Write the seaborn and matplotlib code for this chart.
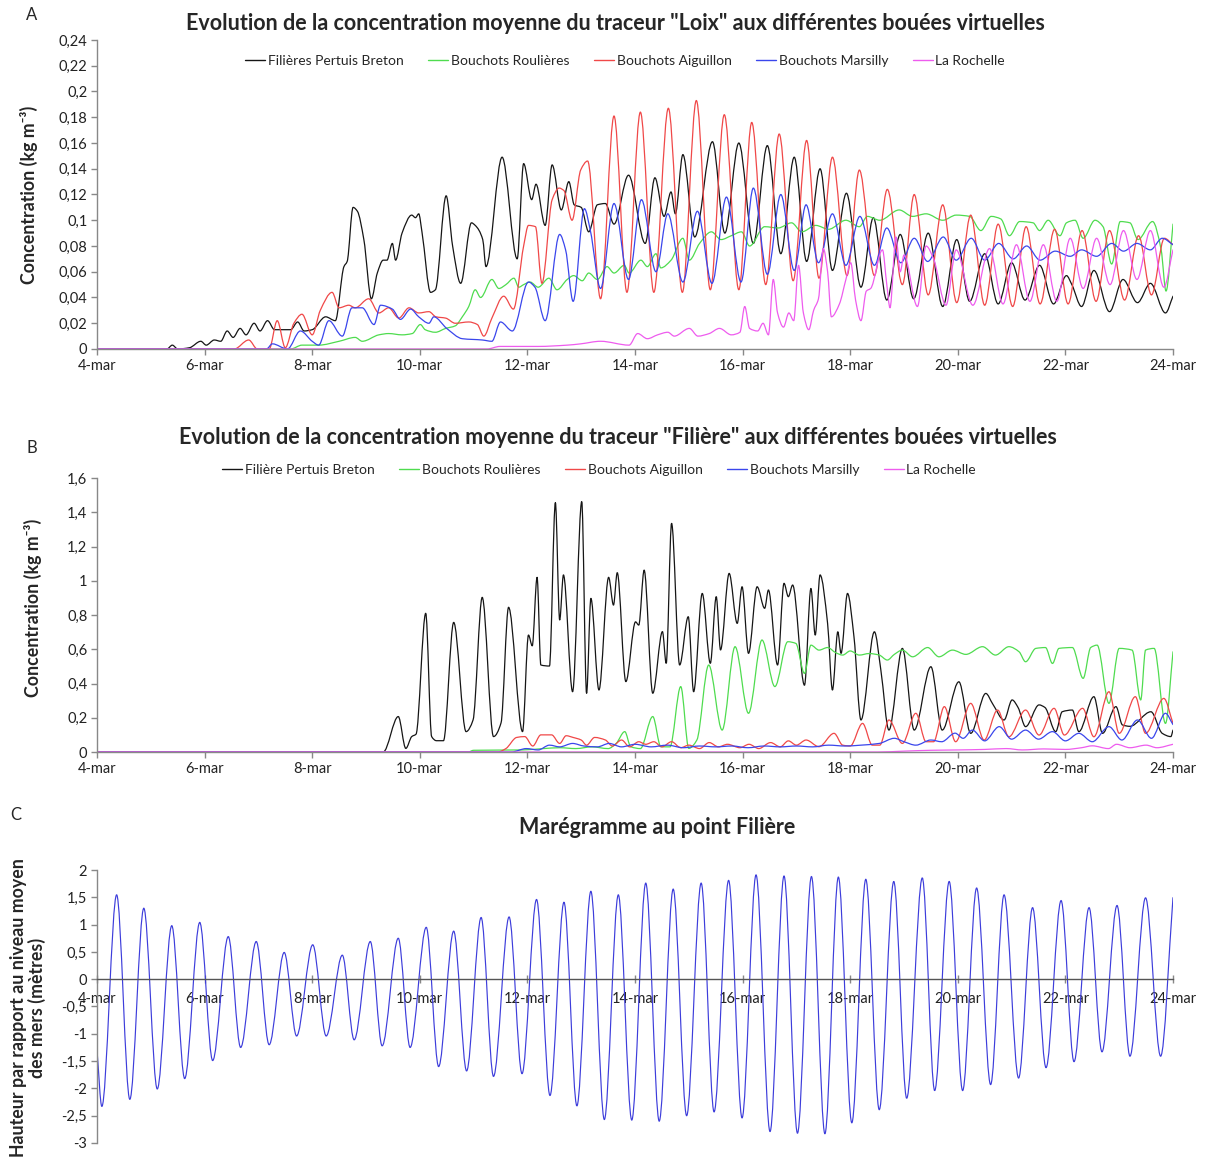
import matplotlib
matplotlib.use("Agg")
import matplotlib.pyplot as plt
from matplotlib.ticker import FuncFormatter, MultipleLocator
from matplotlib.path import Path
from matplotlib.patches import PathPatch
from matplotlib.lines import Line2D
import seaborn as sns

# ---------------- DATA (time in days after 4-mar 00:00, value) ----------------
DATE_TICKS = [0, 2, 4, 6, 8, 10, 12, 14, 16, 18, 20]
DATE_LABELS = ["4-mar", "6-mar", "8-mar", "10-mar", "12-mar", "14-mar",
               "16-mar", "18-mar", "20-mar", "22-mar", "24-mar"]

A_NAMES = ["Filières Pertuis Breton", "Bouchots Roulières", "Bouchots Aiguillon",
           "Bouchots Marsilly", "La Rochelle"]
B_NAMES = ["Filière Pertuis Breton", "Bouchots Roulières", "Bouchots Aiguillon",
           "Bouchots Marsilly", "La Rochelle"]

A_BLACK = [(0, 0), (1.30, 0), (1.40, 0.003), (1.50, 0), (1.72, 0.001), (1.93, 0.006), (2.03, 0.003),
           (2.18, 0.007), (2.30, 0.006), (2.42, 0.014), (2.53, 0.009), (2.66, 0.016), (2.77, 0.011),
           (2.92, 0.020), (3.03, 0.014), (3.17, 0.022), (3.30, 0.015), (3.60, 0.015), (3.73, 0.021),
           (3.85, 0.014), (4.00, 0.015), (4.25, 0.025), (4.43, 0.022), (4.59, 0.064), (4.65, 0.068),
           (4.76, 0.110), (4.84, 0.107), (4.96, 0.085), (5.10, 0.039), (5.21, 0.059), (5.32, 0.069),
           (5.39, 0.069), (5.49, 0.082), (5.55, 0.069), (5.67, 0.090), (5.85, 0.104), (5.92, 0.102),
           (5.98, 0.105), (6.04, 0.091), (6.20, 0.044), (6.29, 0.046), (6.49, 0.119), (6.61, 0.080),
           (6.76, 0.051), (6.96, 0.098), (7.03, 0.096), (7.17, 0.085), (7.23, 0.064), (7.53, 0.149),
           (7.81, 0.070), (7.93, 0.144), (8.08, 0.116), (8.16, 0.128), (8.33, 0.096), (8.46, 0.143),
           (8.63, 0.108), (8.77, 0.130), (8.87, 0.112), (9.00, 0.110), (9.14, 0.091), (9.30, 0.112),
           (9.45, 0.113), (9.61, 0.097), (9.88, 0.135), (10.19, 0.082), (10.37, 0.133), (10.54, 0.103),
           (10.67, 0.122), (10.75, 0.105), (10.89, 0.151), (11.11, 0.087), (11.44, 0.161), (11.67, 0.090),
           (11.93, 0.160), (12.20, 0.082), (12.46, 0.158), (12.71, 0.074), (12.96, 0.149), (13.19, 0.068),
           (13.44, 0.140), (13.67, 0.061), (13.93, 0.121), (14.20, 0.048), (14.43, 0.102), (14.68, 0.038),
           (14.93, 0.089), (15.18, 0.039), (15.45, 0.090), (15.72, 0.033), (15.98, 0.085), (16.22, 0.037),
           (16.50, 0.074), (16.75, 0.035), (17.00, 0.067), (17.25, 0.038), (17.52, 0.065), (17.78, 0.035),
           (18.02, 0.057), (18.12, 0.050), (18.30, 0.033), (18.53, 0.061), (18.82, 0.029), (19.07, 0.054),
           (19.34, 0.036), (19.58, 0.051), (19.86, 0.028), (20.0, 0.041)]

A_GREEN = [(0, 0), (3.60, 0), (3.81, 0.003), (4.12, 0.003), (4.50, 0.006), (4.80, 0.009), (4.93, 0.006),
           (5.24, 0.011), (5.42, 0.012), (5.67, 0.011), (5.86, 0.012), (6.01, 0.019), (6.10, 0.015),
           (6.29, 0.013), (6.48, 0.016), (6.66, 0.018), (6.79, 0.025), (6.91, 0.033), (7.03, 0.046),
           (7.13, 0.040), (7.34, 0.054), (7.47, 0.047), (7.60, 0.050), (7.75, 0.055), (7.84, 0.048),
           (7.93, 0.050), (8.05, 0.052), (8.20, 0.048), (8.40, 0.055), (8.55, 0.046), (8.74, 0.054),
           (8.86, 0.057), (9.02, 0.053), (9.14, 0.059), (9.30, 0.054), (9.48, 0.064), (9.61, 0.059),
           (9.80, 0.065), (9.89, 0.059), (10.11, 0.069), (10.23, 0.064), (10.39, 0.074), (10.48, 0.063),
           (10.67, 0.069), (10.89, 0.086), (11.01, 0.069), (11.20, 0.082), (11.42, 0.091), (11.60, 0.085),
           (11.79, 0.088), (11.98, 0.091), (12.13, 0.080), (12.41, 0.095), (12.66, 0.094), (12.91, 0.098),
           (13.10, 0.091), (13.36, 0.096), (13.60, 0.093), (13.92, 0.100), (14.17, 0.095), (14.32, 0.103),
           (14.55, 0.100), (14.91, 0.108), (15.16, 0.103), (15.41, 0.105), (15.72, 0.100), (15.97, 0.104),
           (16.22, 0.103), (16.43, 0.092), (16.62, 0.103), (16.80, 0.101), (16.96, 0.088), (17.15, 0.099),
           (17.40, 0.098), (17.52, 0.092), (17.68, 0.100), (17.90, 0.088), (18.02, 0.098), (18.18, 0.100),
           (18.33, 0.086), (18.55, 0.100), (18.70, 0.095), (18.86, 0.066), (19.02, 0.099), (19.20, 0.098),
           (19.35, 0.085), (19.62, 0.099), (19.78, 0.077), (19.87, 0.045), (20.0, 0.097)]

A_RED = [(0, 0), (2.55, 0), (2.82, 0.007), (2.98, 0), (3.20, 0), (3.35, 0.022), (3.50, 0.001), (3.66, 0.020),
         (3.81, 0.027), (4.00, 0.011), (4.15, 0.030), (4.37, 0.044), (4.50, 0.032), (4.68, 0.034),
         (4.80, 0.032), (5.05, 0.039), (5.24, 0.028), (5.42, 0.032), (5.61, 0.024), (5.80, 0.032),
         (5.98, 0.028), (6.17, 0.029), (6.30, 0.025), (6.48, 0.024), (6.66, 0.020), (6.91, 0.021),
         (7.07, 0.019), (7.19, 0.010), (7.34, 0.024), (7.56, 0.041), (7.74, 0.031), (7.93, 0.080),
         (8.02, 0.096), (8.15, 0.095), (8.27, 0.051), (8.46, 0.116), (8.59, 0.125), (8.68, 0.123),
         (8.83, 0.100), (8.99, 0.139), (9.12, 0.146), (9.36, 0.039), (9.61, 0.181), (9.85, 0.044),
         (10.10, 0.184), (10.35, 0.044), (10.62, 0.187), (10.88, 0.044), (11.14, 0.193), (11.40, 0.046),
         (11.66, 0.182), (11.93, 0.046), (12.17, 0.176), (12.43, 0.050), (12.68, 0.167), (12.94, 0.053),
         (13.19, 0.162), (13.42, 0.055), (13.67, 0.149), (13.94, 0.057), (14.17, 0.139), (14.45, 0.057),
         (14.69, 0.124), (14.97, 0.050), (15.19, 0.120), (15.45, 0.042), (15.72, 0.112), (15.98, 0.036),
         (16.24, 0.104), (16.50, 0.034), (16.75, 0.097), (17.02, 0.033), (17.27, 0.095), (17.53, 0.035),
         (17.80, 0.093), (18.05, 0.035), (18.31, 0.092), (18.57, 0.037), (18.82, 0.092), (19.10, 0.038),
         (19.36, 0.088), (19.60, 0.042), (19.84, 0.086), (20.0, 0.081)]

A_BLUE = [(0, 0), (3.15, 0), (3.26, 0.004), (3.54, 0), (3.78, 0.014), (4.00, 0.006), (4.12, 0.003),
          (4.31, 0.022), (4.56, 0.010), (4.74, 0.032), (4.93, 0.032), (5.15, 0.019), (5.27, 0.034),
          (5.49, 0.031), (5.64, 0.023), (5.83, 0.031), (5.98, 0.025), (6.17, 0.020), (6.26, 0.025),
          (6.50, 0.016), (6.79, 0.008), (7.16, 0.007), (7.34, 0.006), (7.50, 0.021), (7.72, 0.014),
          (8.02, 0.052), (8.14, 0.048), (8.33, 0.022), (8.60, 0.089), (8.71, 0.077), (8.85, 0.037),
          (9.06, 0.109), (9.17, 0.092), (9.36, 0.047), (9.61, 0.113), (9.88, 0.054), (10.12, 0.116),
          (10.39, 0.060), (10.61, 0.105), (10.89, 0.052), (11.16, 0.107), (11.43, 0.051), (11.70, 0.118),
          (11.97, 0.052), (12.20, 0.125), (12.46, 0.058), (12.71, 0.120), (12.96, 0.061), (13.18, 0.112),
          (13.41, 0.067), (13.67, 0.105), (13.92, 0.065), (14.18, 0.103), (14.45, 0.065), (14.68, 0.094),
          (14.94, 0.067), (15.19, 0.086), (15.44, 0.068), (15.73, 0.087), (15.97, 0.069), (16.25, 0.086),
          (16.50, 0.069), (16.76, 0.082), (17.03, 0.070), (17.28, 0.080), (17.53, 0.069), (17.81, 0.076),
          (18.09, 0.072), (18.30, 0.077), (18.58, 0.072), (18.86, 0.082), (19.08, 0.076), (19.33, 0.082),
          (19.58, 0.077), (19.80, 0.086), (20.0, 0.081)]

A_PINK = [(0, 0), (7.25, 0), (7.49, 0.002), (8.20, 0.002), (8.74, 0.003), (8.99, 0.004), (9.36, 0.006),
          (9.89, 0.003), (10.05, 0.012), (10.23, 0.008), (10.42, 0.011), (10.61, 0.013), (10.73, 0.010),
          (11.01, 0.016), (11.17, 0.010), (11.38, 0.012), (11.57, 0.016), (11.79, 0.011), (11.95, 0.013),
          (12.04, 0.033), (12.13, 0.016), (12.28, 0.014), (12.38, 0.020), (12.48, 0.011), (12.57, 0.054),
          (12.65, 0.028), (12.76, 0.017), (12.86, 0.028), (12.95, 0.022), (13.04, 0.065), (13.13, 0.028),
          (13.23, 0.015), (13.32, 0.030), (13.41, 0.039), (13.50, 0.078), (13.58, 0.060), (13.65, 0.025),
          (13.80, 0.035), (13.92, 0.054), (14.01, 0.067), (14.10, 0.038), (14.20, 0.022), (14.30, 0.045),
          (14.38, 0.047), (14.60, 0.077), (14.68, 0.050), (14.74, 0.032), (14.85, 0.087), (14.93, 0.060),
          (15.00, 0.073), (15.25, 0.033), (15.41, 0.080), (15.55, 0.070), (15.78, 0.034), (15.97, 0.077),
          (16.28, 0.034), (16.59, 0.078), (16.84, 0.035), (17.09, 0.081), (17.34, 0.037), (17.59, 0.081),
          (17.84, 0.037), (18.09, 0.086), (18.33, 0.047), (18.58, 0.086), (18.83, 0.050), (19.08, 0.092),
          (19.33, 0.054), (19.58, 0.092), (19.83, 0.048), (20.0, 0.077)]

B_BLACK = [(0, 0), (5.32, 0), (5.60, 0.207), (5.74, 0.021), (5.85, 0.090), (5.93, 0.104), (6.11, 0.810),
           (6.22, 0.090), (6.31, 0.066), (6.44, 0.066), (6.63, 0.757), (6.86, 0.119), (6.99, 0.187),
           (7.16, 0.903), (7.37, 0.090), (7.51, 0.170), (7.65, 0.845), (7.91, 0.119), (8.02, 0.683),
           (8.09, 0.620), (8.18, 1.020), (8.25, 0.508), (8.41, 0.502), (8.52, 1.456), (8.60, 0.771),
           (8.67, 1.034), (8.84, 0.352), (9.01, 1.462), (9.10, 0.343), (9.18, 0.897), (9.33, 0.362),
           (9.51, 1.020), (9.60, 0.858), (9.67, 1.047), (9.83, 0.411), (10.01, 0.760), (10.07, 0.741),
           (10.17, 1.062), (10.33, 0.343), (10.51, 0.703), (10.58, 0.518), (10.68, 1.335), (10.83, 0.508),
           (10.99, 0.790), (11.09, 0.352), (11.25, 0.926), (11.40, 0.518), (11.51, 0.907), (11.59, 0.596),
           (11.75, 1.043), (11.90, 0.751), (11.99, 0.965), (12.11, 0.576), (12.27, 0.965), (12.41, 0.839),
           (12.48, 0.946), (12.65, 0.508), (12.77, 0.985), (12.85, 0.907), (12.93, 0.975), (13.15, 0.390),
           (13.27, 0.955), (13.35, 0.683), (13.44, 1.034), (13.58, 0.750), (13.67, 0.362), (13.77, 0.702),
           (13.83, 0.576), (13.95, 0.926), (14.07, 0.673), (14.20, 0.187), (14.45, 0.702), (14.57, 0.478),
           (14.72, 0.128), (14.97, 0.605), (15.19, 0.128), (15.50, 0.498), (15.71, 0.128), (16.02, 0.410),
           (16.24, 0.109), (16.52, 0.342), (16.65, 0.280), (16.86, 0.187), (17.01, 0.304), (17.12, 0.260),
           (17.26, 0.148), (17.51, 0.275), (17.62, 0.260), (17.82, 0.119), (17.94, 0.235), (18.13, 0.245),
           (18.25, 0.119), (18.53, 0.323), (18.69, 0.109), (18.94, 0.265), (19.06, 0.158), (19.20, 0.150),
           (19.59, 0.235), (19.80, 0.109), (19.96, 0.090), (20.0, 0.128)]

B_GREEN = [(0, 0), (6.90, 0), (7.00, 0.010), (7.90, 0.012), (8.30, 0.020), (8.60, 0.025), (8.90, 0.020),
           (9.20, 0.030), (9.50, 0.020), (9.65, 0.050), (9.81, 0.119), (9.92, 0.031), (10.10, 0.020),
           (10.33, 0.207), (10.48, 0.031), (10.65, 0.030), (10.85, 0.382), (11.00, 0.021), (11.15, 0.070),
           (11.37, 0.508), (11.62, 0.128), (11.86, 0.615), (12.11, 0.226), (12.36, 0.654), (12.60, 0.382),
           (12.84, 0.644), (12.99, 0.634), (13.15, 0.459), (13.27, 0.624), (13.42, 0.595), (13.58, 0.610),
           (13.73, 0.580), (13.86, 0.566), (14.00, 0.590), (14.17, 0.566), (14.35, 0.575), (14.54, 0.566),
           (14.69, 0.537), (14.82, 0.570), (14.97, 0.595), (15.16, 0.556), (15.44, 0.610), (15.65, 0.556),
           (15.90, 0.595), (16.15, 0.570), (16.46, 0.615), (16.70, 0.566), (16.95, 0.615), (17.14, 0.585),
           (17.26, 0.527), (17.45, 0.605), (17.63, 0.610), (17.76, 0.517), (17.88, 0.605), (18.13, 0.610),
           (18.33, 0.430), (18.47, 0.610), (18.59, 0.624), (18.81, 0.284), (19.00, 0.605), (19.24, 0.595),
           (19.40, 0.304), (19.49, 0.595), (19.65, 0.605), (19.86, 0.167), (20.0, 0.585)]

B_RED = [(0, 0), (7.45, 0), (7.60, 0.020), (7.80, 0.085), (7.95, 0.090), (8.10, 0.035), (8.25, 0.100),
         (8.45, 0.100), (8.60, 0.050), (8.72, 0.095), (8.85, 0.085), (9.00, 0.070), (9.10, 0.040),
         (9.25, 0.085), (9.45, 0.070), (9.58, 0.035), (9.75, 0.070), (9.90, 0.030), (10.07, 0.060),
         (10.20, 0.045), (10.35, 0.060), (10.50, 0.030), (10.68, 0.060), (10.85, 0.025), (11.00, 0.040),
         (11.20, 0.020), (11.38, 0.055), (11.55, 0.030), (11.72, 0.045), (11.95, 0.025), (12.12, 0.045),
         (12.30, 0.020), (12.52, 0.055), (12.70, 0.030), (12.85, 0.065), (13.00, 0.040), (13.18, 0.070),
         (13.42, 0.031), (13.70, 0.109), (13.86, 0.040), (14.00, 0.035), (14.23, 0.167), (14.41, 0.040),
         (14.55, 0.040), (14.72, 0.187), (14.97, 0.050), (15.22, 0.226), (15.41, 0.060), (15.55, 0.060),
         (15.75, 0.265), (15.96, 0.060), (16.24, 0.284), (16.49, 0.070), (16.74, 0.245), (16.95, 0.089),
         (17.26, 0.245), (17.51, 0.099), (17.79, 0.255), (17.98, 0.099), (18.32, 0.255), (18.53, 0.089),
         (18.81, 0.352), (19.00, 0.109), (19.30, 0.323), (19.49, 0.109), (19.83, 0.313), (20.0, 0.167)]

B_BLUE = [(0, 0), (7.70, 0), (7.98, 0.020), (8.20, 0.012), (8.41, 0.040), (8.60, 0.030), (8.84, 0.050),
          (9.05, 0.035), (9.30, 0.030), (9.52, 0.050), (9.75, 0.030), (10.00, 0.045), (10.30, 0.030),
          (10.60, 0.040), (10.90, 0.025), (11.20, 0.035), (11.50, 0.030), (11.80, 0.035), (12.10, 0.025),
          (12.40, 0.035), (12.70, 0.030), (13.00, 0.035), (13.30, 0.030), (13.60, 0.040), (13.90, 0.035),
          (14.20, 0.040), (14.54, 0.050), (14.82, 0.080), (15.00, 0.060), (15.22, 0.040), (15.50, 0.070),
          (15.70, 0.060), (15.95, 0.110), (16.10, 0.080), (16.27, 0.128), (16.50, 0.065), (16.77, 0.148),
          (17.00, 0.075), (17.26, 0.128), (17.50, 0.075), (17.76, 0.119), (18.00, 0.065), (18.25, 0.109),
          (18.50, 0.060), (18.81, 0.148), (19.05, 0.070), (19.34, 0.187), (19.60, 0.080), (19.86, 0.226),
          (20.0, 0.160)]

B_PINK = [(0, 0), (14.50, 0), (15.00, 0.005), (15.50, 0.010), (16.00, 0.012), (16.50, 0.015), (16.90, 0.020),
          (17.20, 0.012), (17.60, 0.018), (18.00, 0.015), (18.30, 0.025), (18.50, 0.036), (18.80, 0.020),
          (18.95, 0.045), (19.20, 0.025), (19.50, 0.040), (19.70, 0.025), (20.0, 0.045)]

# Tide gauge: low waters, high waters, start and end values
TIDE_LOW = [(0.09, -2.33), (0.61, -2.20), (1.12, -2.01), (1.63, -1.82), (2.15, -1.49), (2.67, -1.25),
            (3.20, -1.20), (3.71, -1.04), (4.26, -1.04), (4.78, -1.11), (5.30, -1.22), (5.82, -1.25),
            (6.35, -1.60), (6.87, -1.68), (7.37, -1.78), (7.90, -1.73), (8.42, -2.13), (8.92, -2.32),
            (9.43, -2.57), (9.94, -2.58), (10.45, -2.60), (10.96, -2.50), (11.47, -2.43), (11.99, -2.54),
            (12.51, -2.79), (13.02, -2.82), (13.53, -2.83), (14.03, -2.63), (14.54, -2.39), (15.05, -2.18),
            (15.57, -2.04), (16.09, -2.04), (16.61, -1.93), (17.13, -1.81), (17.64, -1.62), (18.16, -1.51),
            (18.68, -1.33), (19.20, -1.41), (19.77, -1.41)]
TIDE_HIGH = [(0.365, 1.545), (0.87, 1.30), (1.39, 0.98), (1.91, 1.04), (2.44, 0.78), (2.96, 0.69),
             (3.48, 0.49), (4.01, 0.63), (4.56, 0.44), (5.08, 0.69), (5.60, 0.75), (6.12, 0.95),
             (6.63, 0.88), (7.14, 1.13), (7.66, 1.14), (8.17, 1.46), (8.68, 1.41), (9.18, 1.61),
             (9.69, 1.545), (10.20, 1.76), (10.71, 1.65), (11.23, 1.76), (11.74, 1.81), (12.25, 1.91),
             (12.77, 1.89), (13.28, 1.88), (13.78, 1.87), (14.29, 1.83), (14.81, 1.79), (15.34, 1.855),
             (15.84, 1.79), (16.35, 1.67), (16.86, 1.545), (17.39, 1.31), (17.92, 1.44), (18.44, 1.31),
             (18.96, 1.35), (19.49, 1.49)]
TIDE_START = (0.0, -1.30)
TIDE_END = (20.0, 1.50)

# ---------------- STYLE ----------------
sns.set_theme(style="white")
plt.rcParams["font.family"] = ["Lato", "DejaVu Sans"]
plt.rcParams["axes.unicode_minus"] = False

COLORS = ["#151515", "#4fdc4f", "#f04848", "#3a46ec", "#ee5cee"]
TIDE_COLOR = "#3d3ddb"
SPINE = "#888888"
LW = 0.9
W, H = 1210, 1162
TITLE_FS = 15.5
YLAB_FS = 12.8
TICK_FS = 10.5
LEG_FS = 10

fig = plt.figure(figsize=(W / 100, H / 100), dpi=100)


def fx(px):
    return px / W


def fy(py):
    return 1 - py / H


def comma(v, pos=None):
    s = f"{v:.2f}".rstrip("0").rstrip(".")
    if s == "-0":
        s = "0"
    return s.replace(".", ",")


def smooth_path(points):
    """Smoothed-line rendering (monotone cubic Bezier) through the read points."""
    t = [p[0] for p in points]
    v = [p[1] for p in points]
    n = len(points)
    d = [(v[i + 1] - v[i]) / (t[i + 1] - t[i]) for i in range(n - 1)]
    m = [0.0] * n
    m[0], m[-1] = d[0], d[-1]
    for i in range(1, n - 1):
        if d[i - 1] * d[i] <= 0:
            m[i] = 0.0
        else:
            h0, h1 = t[i] - t[i - 1], t[i + 1] - t[i]
            w1, w2 = 2 * h1 + h0, h1 + 2 * h0
            m[i] = (w1 + w2) / (w1 / d[i - 1] + w2 / d[i])
    verts = [(t[0], v[0])]
    codes = [Path.MOVETO]
    for i in range(n - 1):
        h = t[i + 1] - t[i]
        verts += [(t[i] + h / 3, v[i] + m[i] * h / 3),
                  (t[i + 1] - h / 3, v[i + 1] - m[i + 1] * h / 3),
                  (t[i + 1], v[i + 1])]
        codes += [Path.CURVE4] * 3
    return Path(verts, codes)


def draw_line(ax, points, color):
    ax.add_patch(PathPatch(smooth_path(points), fill=False, edgecolor=color,
                           linewidth=LW, transform=ax.transData, capstyle="round",
                           joinstyle="round"))


def style_axes(ax, ymin, ymax, ystep):
    ax.set_xlim(0, 20)
    ax.set_ylim(ymin, ymax)
    ax.set_xticks(DATE_TICKS)
    ax.set_xticklabels(DATE_LABELS)
    ax.yaxis.set_major_locator(MultipleLocator(ystep))
    ax.yaxis.set_major_formatter(FuncFormatter(comma))
    sns.despine(ax=ax)
    for s in ["left", "bottom"]:
        ax.spines[s].set_color(SPINE)
        ax.spines[s].set_linewidth(1.0)
    ax.tick_params(axis="both", which="major", direction="out", length=4, width=1,
                   color=SPINE, labelsize=TICK_FS, labelcolor="#222222", pad=3,
                   left=True, bottom=True)
    ax.set_facecolor("white")
    ax.grid(False)
    ax.set_xlabel("")
    ax.set_ylabel("")


def add_legend(ax, names, x_px, y_px):
    handles = [Line2D([], [], color=c, linewidth=1.0) for c in COLORS]
    ax.legend(handles, names, loc="center left", bbox_to_anchor=(fx(x_px), fy(y_px)),
              bbox_transform=fig.transFigure, ncol=5, frameon=False, fontsize=LEG_FS,
              handlelength=1.45, handletextpad=0.2, columnspacing=1.75,
              borderpad=0, borderaxespad=0)


# ---------------- PANEL A ----------------
axA = fig.add_axes([fx(97), fy(349), fx(1173 - 97), (349 - 40) / H])
style_axes(axA, 0, 0.24, 0.02)
for pts, col in zip([A_BLACK, A_GREEN, A_RED, A_BLUE, A_PINK], COLORS):
    draw_line(axA, pts, col)
add_legend(axA, A_NAMES, 245, 61)
fig.text(fx(29), fy(195), "Concentration (kg m⁻³)", rotation=90, ha="center", va="center",
         fontsize=YLAB_FS, fontweight="bold")
fig.text(fx(615), fy(23), 'Evolution de la concentration moyenne du traceur "Loix" aux différentes bouées virtuelles',
         ha="center", va="center", fontsize=TITLE_FS, fontweight="bold")
fig.text(fx(32), fy(15), "A", ha="center", va="center", fontsize=12)

# ---------------- PANEL B ----------------
axB = fig.add_axes([fx(97), fy(752), fx(1173 - 97), (752 - 478) / H])
style_axes(axB, 0, 1.6, 0.2)
for pts, col in zip([B_BLACK, B_GREEN, B_RED, B_BLUE, B_PINK], COLORS):
    draw_line(axB, pts, col)
add_legend(axB, B_NAMES, 222, 470)
fig.text(fx(33), fy(608), "Concentration (kg m⁻³)", rotation=90, ha="center", va="center",
         fontsize=YLAB_FS, fontweight="bold")
fig.text(fx(618), fy(437), 'Evolution de la concentration moyenne du traceur "Filière" aux différentes bouées virtuelles',
         ha="center", va="center", fontsize=TITLE_FS, fontweight="bold")
fig.text(fx(32), fy(448), "B", ha="center", va="center", fontsize=12)

# ---------------- PANEL C ----------------
axC = fig.add_axes([fx(97), fy(1143), fx(1173 - 97), (1143 - 870) / H])
style_axes(axC, -3, 2, 0.5)
tide = [TIDE_START]
for i, lo in enumerate(TIDE_LOW):
    tide.append(lo)
    if i < len(TIDE_HIGH):
        tide.append(TIDE_HIGH[i])
tide.append(TIDE_END)
axC.add_patch(PathPatch(smooth_path(tide), fill=False, edgecolor=TIDE_COLOR, linewidth=0.85,
                        transform=axC.transData))
axC.spines["bottom"].set_position(("data", 0))
axC.spines["bottom"].set_color("#555555")
axC.tick_params(axis="x", direction="inout", length=6, pad=6)
fig.text(fx(28), fy(1008), "Hauteur par rapport au niveau moyen\ndes mers (mètres)", rotation=90,
         ha="center", va="center", fontsize=YLAB_FS, fontweight="bold", linespacing=1.1)
fig.text(fx(657), fy(828), "Marégramme au point Filière", ha="center", va="center",
         fontsize=TITLE_FS, fontweight="bold")
fig.text(fx(16), fy(815), "C", ha="center", va="center", fontsize=12)

fig.savefig("out.png", dpi=100, facecolor="white")
